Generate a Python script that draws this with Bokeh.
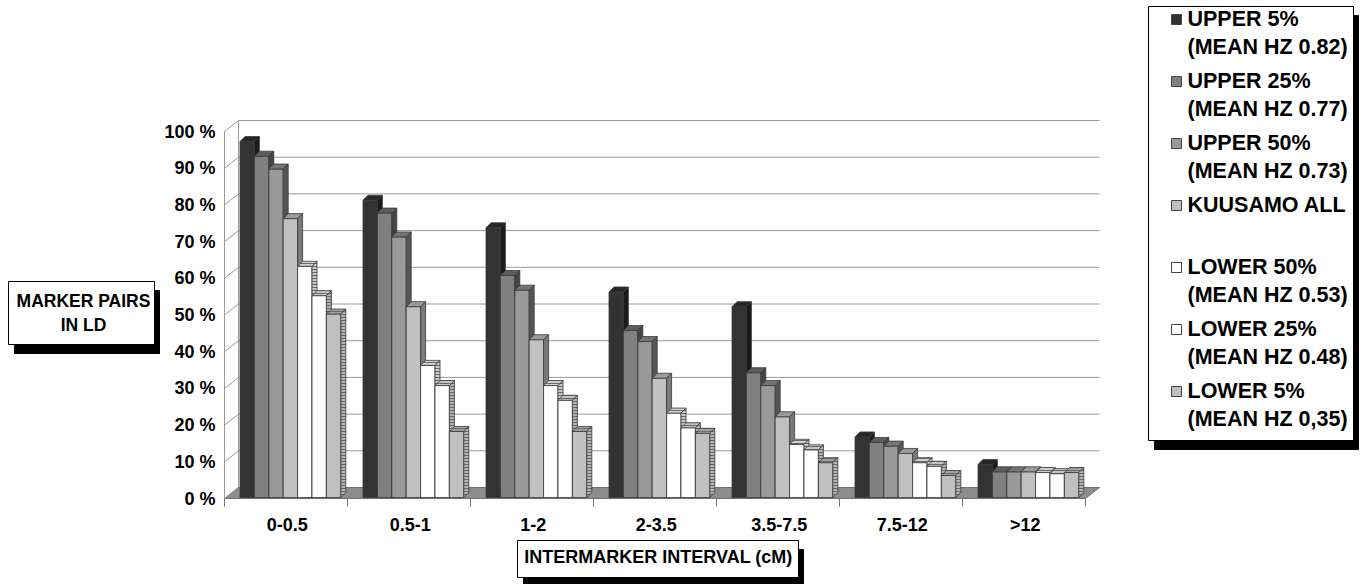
from bokeh.plotting import figure
from bokeh.models import Range1d, ColumnDataSource
from bokeh.embed import file_html
from bokeh.resources import INLINE
from bokeh.core.properties import value

# ---- data -------------------------------------------------------------
categories = ["0-0.5", "0.5-1", "1-2", "2-3.5", "3.5-7.5", "7.5-12", ">12"]

upper_5 = [97, 81, 73.5, 56, 52, 16.5, 9]
upper_25 = [93, 77.5, 60.5, 45.5, 34, 15, 7]
upper_50 = [89.5, 71, 56.5, 42.5, 30.5, 14, 7]
kuusamo_all = [76, 52, 43, 32.5, 22, 12, 7]
lower_50 = [63, 36, 30.5, 23, 14.5, 9.5, 6.8]
lower_25 = [55, 30.5, 26.5, 19, 13, 8.5, 6.5]
lower_5 = [50, 18, 18, 17.5, 9.5, 6, 6.8]

series_values = [upper_5, upper_25, upper_50, kuusamo_all, lower_50, lower_25, lower_5]
legend_lines = [
    ["UPPER 5%", "(MEAN HZ 0.82)"],
    ["UPPER 25%", "(MEAN HZ 0.77)"],
    ["UPPER 50%", "(MEAN HZ 0.73)"],
    ["KUUSAMO ALL"],
    ["LOWER 50%", "(MEAN HZ 0.53)"],
    ["LOWER 25%", "(MEAN HZ 0.48)"],
    ["LOWER 5%", "(MEAN HZ 0,35)"],
]

y_ticks = [0, 10, 20, 30, 40, 50, 60, 70, 80, 90, 100]
y_tick_labels = ["0 %", "10 %", "20 %", "30 %", "40 %", "50 %", "60 %", "70 %", "80 %", "90 %", "100 %"]

y_title = ["MARKER PAIRS", "IN LD"]
x_title = "INTERMARKER INTERVAL (cM)"

# ---- styles (front, top, side, hatch on side/top) ---------------------
face_styles = [
    ("#333333", "#262626", "#1a1a1a", False),
    ("#808080", "#5e5e5e", "#454545", False),
    ("#999999", "#747474", "#555555", False),
    ("#c0c0c0", "#9a9a9a", "#7a7a7a", False),
    ("#ffffff", "#d0d0d0", "#c8c8c8", True),
    ("#ffffff", "#c4c4c4", "#b0b0b0", True),
    ("#c0c0c0", "#a0a0a0", "#b4b4b4", True),
]
legend_colors = ["#333333", "#808080", "#999999", "#c0c0c0", "#ffffff", "#ffffff", "#c0c0c0"]

FONT = value("Liberation Sans")
INK = "#000000"
W, H = 1364, 584

# ---- geometry of the pseudo-3D frame ----------------------------------
PX_CAT = 123.0      # pixels per category
PX_PCT = 3.67       # pixels per percent
X0_PX, Y0_PX = 224.0, 498.0

WALL_DX = 14 / PX_CAT
WALL_DY = 11 / PX_PCT
BAR_DX = 5 / PX_CAT
BAR_DY = 5 / PX_PCT
BAR_W = 14.4 / PX_CAT
GROUP_OFF = 15.5 / PX_CAT
BAR_BASE = 1 / PX_PCT
N = len(categories)

p = figure(
    width=W, height=H,
    x_range=Range1d(-X0_PX / PX_CAT, (W - X0_PX) / PX_CAT),
    y_range=Range1d(-(H - Y0_PX) / PX_PCT, Y0_PX / PX_PCT),
    output_backend="svg", toolbar_location=None,
    x_axis_location=None, y_axis_location=None,
    min_border=0, outline_line_color=None,
)
p.xgrid.visible = False
p.ygrid.visible = False
p.background_fill_color = "white"
p.border_fill_color = "white"

# pixel-space ranges for the boxes and legend
p.extra_x_ranges = {"px": Range1d(0, W)}
p.extra_y_ranges = {"px": Range1d(H, 0)}

# floor
p.patch([0, N, N + WALL_DX, WALL_DX], [0, 0, WALL_DY, WALL_DY],
        fill_color="#8c8c8c", line_color="#707070", line_width=1)

# back-wall gridlines and left-wall lines
p.multi_line(
    xs=[[WALL_DX, N + WALL_DX] for t in y_ticks[1:]],
    ys=[[t + WALL_DY, t + WALL_DY] for t in y_ticks[1:]],
    line_color="#9a9a9a", line_width=1)
p.multi_line(
    xs=[[0, WALL_DX] for t in y_ticks],
    ys=[[t, t + WALL_DY] for t in y_ticks],
    line_color="#9a9a9a", line_width=1)
p.segment(x0=[0, WALL_DX], y0=[0, WALL_DY], x1=[0, WALL_DX], y1=[100, 100 + WALL_DY],
          line_color="#9a9a9a", line_width=1)

# category tick marks under the floor
p.segment(x0=list(range(N + 1)), y0=[0] * (N + 1), x1=list(range(N + 1)), y1=[-2.2] * (N + 1),
          line_color="#777777", line_width=1)

# ---- bars: front, top and side faces, painted left to right ------------
xs, ys, fills, hatches = [], [], [], []
for g in range(N):
    for s, vals in enumerate(series_values):
        front_c, top_c, side_c, striped = face_styles[s]
        x0 = g + GROUP_OFF + s * BAR_W
        x1 = x0 + BAR_W
        y0 = BAR_BASE
        y1 = BAR_BASE + vals[g]
        xs.append([x0, x1, x1, x0]); ys.append([y0, y0, y1, y1])
        fills.append(front_c); hatches.append(" ")
        xs.append([x0, x1, x1 + BAR_DX, x0 + BAR_DX]); ys.append([y1, y1, y1 + BAR_DY, y1 + BAR_DY])
        fills.append(top_c); hatches.append("-" if striped else " ")
        xs.append([x1, x1 + BAR_DX, x1 + BAR_DX, x1]); ys.append([y0, y0 + BAR_DY, y1 + BAR_DY, y1])
        fills.append(side_c); hatches.append("-" if striped else " ")

bars = ColumnDataSource(dict(xs=xs, ys=ys, fill=fills, hatch=hatches))
p.patches("xs", "ys", source=bars, fill_color="fill", line_color="#3a3a3a", line_width=0.8,
          hatch_pattern="hatch", hatch_color="#6a6a6a", hatch_scale=3, hatch_weight=1)

# ---- axis texts --------------------------------------------------------
p.text(x=[-9 / PX_CAT] * len(y_ticks), y=y_ticks, text=y_tick_labels,
       text_font=FONT, text_font_style="bold", text_font_size="18px",
       text_align="right", text_baseline="middle", text_color=INK)
p.text(x=[g + 0.51 for g in range(N)], y=[-26 / PX_PCT] * N, text=categories,
       text_font=FONT, text_font_style="bold", text_font_size="18px",
       text_align="center", text_baseline="middle", text_color=INK)

# ---- framed titles with drop shadows (pixel space) ---------------------
def shadow_box(left, top, right, bottom):
    p.quad(left=[left + 6], right=[right + 5], top=[top + 9], bottom=[bottom + 9],
           fill_color="black", line_color="black", x_range_name="px", y_range_name="px")
    p.quad(left=[left], right=[right], top=[top], bottom=[bottom],
           fill_color="white", line_color="black", line_width=1,
           x_range_name="px", y_range_name="px")

shadow_box(8, 281, 154, 344)
p.text(x=[83, 83], y=[300, 324], text=y_title, text_font=FONT, text_font_style="bold",
       text_font_size="17.5px", text_align="center", text_baseline="middle", text_color=INK,
       x_range_name="px", y_range_name="px")

shadow_box(517, 540, 798, 577)
p.text(x=[658], y=[556], text=[x_title], text_font=FONT, text_font_style="bold",
       text_font_size="18px", text_align="center", text_baseline="middle", text_color=INK,
       x_range_name="px", y_range_name="px")

# ---- legend ------------------------------------------------------------
shadow_box(1148, 6, 1353, 440)
lx, ly, lt = [], [], []
mk_x, mk_y = [], []
for i, lines in enumerate(legend_lines):
    y_first = 18 + 62 * i
    mk_x.append(1176); mk_y.append(y_first + 1)
    for j, line in enumerate(lines):
        lx.append(1187); ly.append(y_first + 28 * j); lt.append(line)
p.rect(x=mk_x, y=mk_y, width=10, height=10, fill_color=legend_colors,
       line_color="#444444", line_width=1, x_range_name="px", y_range_name="px")
p.text(x=lx, y=ly, text=lt, text_font=FONT, text_font_style="bold", text_font_size="21.5px",
       text_align="left", text_baseline="middle", text_color=INK,
       x_range_name="px", y_range_name="px")

open("out.html", "w").write(file_html(p, INLINE))
